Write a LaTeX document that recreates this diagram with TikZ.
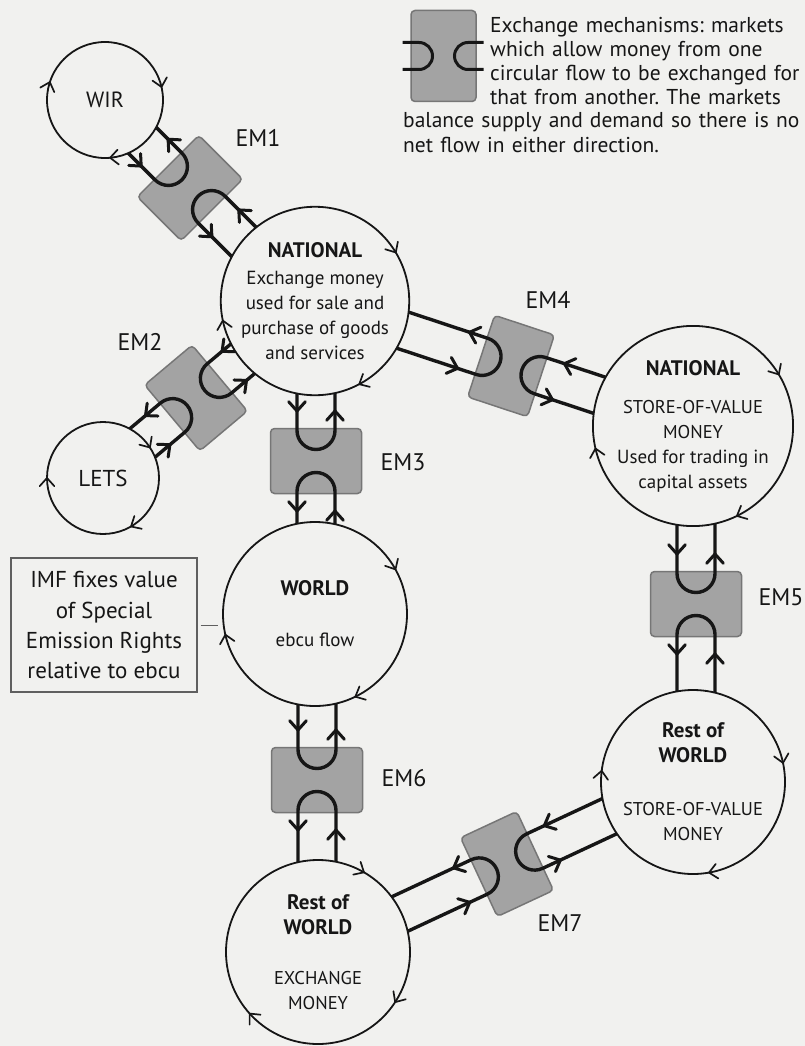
\documentclass[tikz,border=0pt]{standalone}
\usepackage{fontspec}
\setmainfont{PT Sans}
\usetikzlibrary{calc}
\pgfdeclarelayer{paperlayer}
\pgfdeclarelayer{flowlayer}
\pgfsetlayers{paperlayer,flowlayer,main}
\definecolor{paper}{RGB}{241,241,239}
\definecolor{emfill}{RGB}{163,163,163}
\definecolor{emdraw}{RGB}{118,118,118}
\definecolor{ink}{RGB}{22,22,22}
\definecolor{boxline}{RGB}{95,95,95}
\frenchspacing
\newcommand\ttl{\fontsize{21}{25}\selectfont\bfseries}
\newcommand\bdy{\fontsize{19}{25}\selectfont}
\newcommand\cps{\fontsize{18.5}{25}\selectfont}
\tikzset{
  ring/.style={circle, draw=ink, line width=1.8pt, fill=paper, minimum size=184pt,
    inner sep=0pt, outer sep=0pt, align=center, text=ink, font=\bdy},
  embox/.style={rectangle, rounded corners=4pt, draw=emdraw, line width=1.5pt, fill=emfill,
    minimum width=65pt, minimum height=91pt, inner sep=0pt},
  flow/.style={draw=ink, line width=3.4pt},
  flowtip/.style={draw=ink, line width=3pt, line cap=round, line join=round},
  ringtip/.style={draw=ink, line width=1.7pt, line cap=round, line join=round},
  emlabel/.style={font=\fontsize{24}{26}\selectfont, inner sep=0pt, text=ink},
  legend/.style={anchor=north west, align=left, inner sep=0pt, text=ink, font=\fontsize{21.5}{24}\selectfont},
}
% chevron: point, direction, arm length
\newcommand\chev[4][]{\draw[#1] ($(#2)+({#3+138}:#4)$) -- (#2) -- ($(#2)+({#3-138}:#4)$);}
\newcommand\ringtips[4]{%
  \chev[ringtip]{#1.#2}{#2-90}{11}%
  \chev[ringtip]{#1.#3}{#3-90}{11}%
  \chev[ringtip]{#1.#4}{#4-90}{11}}
% exchange mechanism: opts, name, centre, direction A->B, node A, node B
\newcommand\exch[6][]{%
  \begin{pgfonlayer}{flowlayer}
  \node[embox, rotate=#4, #1] (#2) at (#3) {};
  \path (#2.center) ++({#4+180}:30.5) ++({#4+90}:19) coordinate (#2-ap) ++({#4+180}:10) coordinate (#2-apf);
  \path (#2.center) ++({#4+180}:30.5) ++({#4-90}:19) coordinate (#2-am) ++({#4+180}:10) coordinate (#2-amf);
  \path (#2.center) ++({#4}:30.5) ++({#4+90}:19) coordinate (#2-bp) ++({#4}:10) coordinate (#2-bpf);
  \path (#2.center) ++({#4}:30.5) ++({#4-90}:19) coordinate (#2-bm) ++({#4}:10) coordinate (#2-bmf);
  \draw[flow] ($(#2-ap)!(#5.center)!(#2-apf)$) -- (#2-ap)
     arc[start angle={#4+90}, end angle={#4-90}, radius=19] -- ($(#2-am)!(#5.center)!(#2-amf)$);
  \draw[flow] ($(#2-bp)!(#6.center)!(#2-bpf)$) -- (#2-bp)
     arc[start angle={#4+90}, end angle={#4+270}, radius=19] -- ($(#2-bm)!(#6.center)!(#2-bmf)$);
  \end{pgfonlayer}
  \path (#2.center) ++({#4+180}:50) ++({#4+90}:19) coordinate (#2-t1);
  \path (#2.center) ++({#4+180}:50) ++({#4-90}:19) coordinate (#2-t2);
  \path (#2.center) ++({#4}:50) ++({#4+90}:19) coordinate (#2-t3);
  \path (#2.center) ++({#4}:50) ++({#4-90}:19) coordinate (#2-t4);
  \chev[flowtip]{#2-t1}{#4+180}{12.5}%
  \chev[flowtip]{#2-t2}{#4}{12.5}%
  \chev[flowtip]{#2-t3}{#4+180}{12.5}%
  \chev[flowtip]{#2-t4}{#4}{12.5}}
\begin{document}
\begin{tikzpicture}[x=1pt,y=1pt]
\begin{pgfonlayer}{paperlayer}
  \fill[paper] (0,0) rectangle (805,-1046);
\end{pgfonlayer}
\useasboundingbox (0,0) rectangle (805,-1046);

% legend
\node[embox] (leg) at (443.5,-56) {};
\draw[flow, line width=3pt] ($(leg.center)+(-41,13.5)$) -- ($(leg.center)+(-24.5,13.5)$)
   arc[start angle=90, end angle=-90, radius=13.5] -- ($(leg.center)+(-41,-13.5)$);
\draw[flow, line width=3pt] ($(leg.center)+(40,13.5)$) -- ($(leg.center)+(24.5,13.5)$)
   arc[start angle=90, end angle=270, radius=13.5] -- ($(leg.center)+(40,-13.5)$);
\node[legend, text width=312pt] (legtxt) at (490,-17)
  {Exchange mechanisms: markets\\which allow money from one\\circular flow to be exchanged for\\that from another. The markets};
\node[legend, text width=400pt, font=\fontsize{21.5}{25}\selectfont] (legtxt2) at (403,-112)
  {balance supply and demand so there is no\\net flow in either direction.};

% circles
\node[ring, minimum size=116pt, font=\fontsize{22}{24}\selectfont] (wir) at (105,-100) {WIR};
\node[ring, minimum size=112pt, font=\fontsize{23}{24}\selectfont] (lets) at (103,-478) {LETS};
\node[ring] (nat) at (315,-301)
  {\ttl NATIONAL\\[2pt]Exchange money\\used for sale and\\purchase of goods\\and services};
\node[ring, minimum size=186pt] (nsv) at (693,-426)
  {\ttl NATIONAL\\[13pt]\cps STORE-OF-VALUE\\\cps MONEY\\Used for trading in\\capital assets};
\node[ring] (world) at (315,-614) {\ttl WORLD\\[26pt]ebcu flow};
\node[ring] (rsv) at (693,-782) {\ttl Rest of\\\ttl WORLD\\[28pt]\cps STORE-OF-VALUE\\\cps MONEY};
\node[ring] (rex) at (318,-952) {\ttl Rest of\\\ttl WORLD\\[25pt]\cps EXCHANGE\\\cps MONEY};

\ringtips{wir}{162}{13}{275}
\ringtips{lets}{33}{180}{300}
\ringtips{nat}{31}{192}{298}
\ringtips{nsv}{31}{193}{296}
\ringtips{world}{29}{193}{296}
\ringtips{rsv}{12}{173}{280}
\ringtips{rex}{60}{327}{222}

% exchange mechanisms
\exch[minimum width=62pt, minimum height=87pt]{em1}{190,-188}{-45}{wir}{nat}
\exch[minimum width=62pt, minimum height=86pt]{em2}{196,-398}{-140}{nat}{lets}
\exch{em3}{316,-461}{-90}{nat}{world}
\exch[minimum width=63pt, minimum height=86pt]{em4}{511,-366}{-18.3}{nat}{nsv}
\exch{em5}{696,-604}{-90}{nsv}{rsv}
\exch{em6}{317,-780}{-90}{world}{rex}
\exch[minimum width=62pt, minimum height=87pt]{em7}{507,-864}{-155}{rsv}{rex}

\node[emlabel] (l1) at (258,-138) {EM1};
\node[emlabel] (l2) at (140,-342) {EM2};
\node[emlabel] (l3) at (403,-462) {EM3};
\node[emlabel] (l4) at (548,-300) {EM4};
\node[emlabel] (l5) at (781,-597) {EM5};
\node[emlabel] (l6) at (404,-778) {EM6};
\node[emlabel] (l7) at (560,-923) {EM7};

% IMF box
\node[draw=boxline, line width=1.1pt, minimum width=186pt, minimum height=134pt, inner sep=0pt,
  align=center, text=ink, font=\fontsize{23}{30}\selectfont] (imf) at (104,-625)
  {IMF fixes value\\of Special\\Emission Rights\\relative to ebcu};
\draw[boxline, line width=0.9pt, shorten <=3pt, shorten >=5pt] (imf.east) -- (imf.east -| world.west);
\end{tikzpicture}
\end{document}
